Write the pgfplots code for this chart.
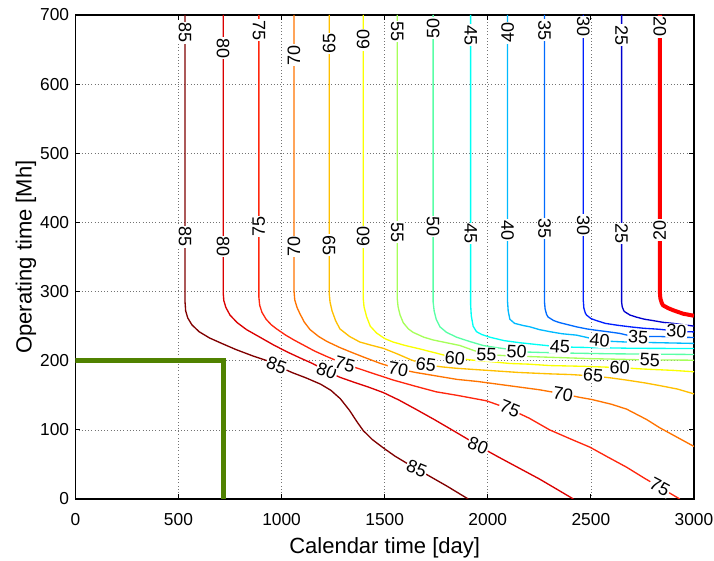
\documentclass[border=0pt]{standalone}
\usepackage{fontspec}
\setmainfont{Liberation Sans}
\usepackage{pgfplots}
\pgfplotsset{compat=1.18}

% jet colours of the contour levels
\definecolor{c85}{rgb}{0.50,0,0}
\definecolor{c80}{rgb}{0.86,0,0}
\definecolor{c75}{rgb}{1,0.15,0.05}
\definecolor{c70}{rgb}{1,0.45,0}
\definecolor{c65}{rgb}{1,0.75,0}
\definecolor{c60}{rgb}{0.98,1,0}
\definecolor{c55}{rgb}{0.65,1,0.35}
\definecolor{c50}{rgb}{0.35,1,0.65}
\definecolor{c45}{rgb}{0,1,0.96}
\definecolor{c40}{rgb}{0,0.73,1}
\definecolor{c35}{rgb}{0,0.42,1}
\definecolor{c30}{rgb}{0,0.12,1}
\definecolor{c25}{rgb}{0,0,0.81}
\definecolor{c20}{rgb}{1,0,0}
\definecolor{limitgreen}{RGB}{80,130,0}

\tikzset{clab/.style={font=\fontsize{13.5}{16}\selectfont, fill=white, inner sep=0.6pt}}

\begin{document}
\begin{tikzpicture}
\begin{axis}[
  at={(0,0)}, anchor=south west,
  scale only axis, width=464pt, height=363pt,
  xmin=0, xmax=3000, ymin=0, ymax=700,
  xtick={0,500,...,3000}, ytick={0,100,...,700},
  tick align=inside, tick pos=both, major tick length=3.8pt,
  grid=major, grid style={black!55, dotted, line width=0.5pt},
  axis line style={line width=0.8pt},
  tick style={line width=0.6pt, black},
  /pgf/number format/assume math mode=true,
  /pgf/number format/set thousands separator={},
  scaled ticks=false,
  ticklabel style={font=\fontsize{13}{16}\selectfont},
  xticklabel style={anchor=base, yshift=-19.7pt},
  yticklabel style={anchor=east, inner sep=0pt, xshift=-4.5pt},
  label style={font=\fontsize{16.5}{19}\selectfont},
  xlabel={Calendar time [day]},
  ylabel={Operating time [Mh]},
  xlabel style={at={(axis description cs:0.5,-0.113)}, anchor=base},
  ylabel style={at={(axis description cs:-0.0705,0.5)}, anchor=base},
  every axis plot/.append style={line width=1pt, line join=round},
]

% contour 85
\addplot[c85] coordinates {(532,700)(532,285)(535,272)(545,262)(565,252)(600,242)(650,233)(710,225)(780,216)(860,207)(930,200)(976,193)(1050,183)(1120,175)(1190,166)(1240,157)(1285,145)(1330,128)(1365,112)(1396,99)(1440,86)(1493,74)(1550,62)(1606,52)(1655,44)(1700,36)(1800,19)(1905,0)};
% contour 80
\addplot[c80] coordinates {(717,700)(717,298)(720,287)(730,277)(750,266)(785,255)(830,245)(895,234)(960,223)(1025,213)(1090,204)(1150,196)(1219,185)(1283,176)(1350,169)(1420,162)(1493,154)(1570,143)(1650,130)(1740,115)(1832,99)(1900,87)(1953,77)(2050,61)(2150,45)(2250,29)(2330,15)(2415,0)};
% contour 75
\addplot[c75] coordinates {(890,700)(890,292)(894,280)(905,270)(925,260)(950,252)(976,246)(1020,237)(1060,230)(1110,222)(1160,214)(1220,206)(1307,195)(1380,188)(1450,181)(1542,172)(1650,163)(1750,155)(1850,150)(1994,142)(2107,130)(2200,117)(2300,100)(2400,87)(2495,75)(2580,61)(2673,46)(2760,30)(2834,17)(2931,0)};
% contour 70
\addplot[c70] coordinates {(1060,700)(1060,302)(1064,288)(1075,277)(1089,268)(1110,256)(1138,245)(1180,235)(1219,228)(1283,219)(1332,213)(1400,205)(1480,196)(1566,188)(1650,183)(1750,178)(1850,173)(1950,170)(2050,166)(2150,162)(2250,158)(2365,152)(2446,147)(2503,144)(2600,137)(2673,130)(2770,115)(2834,103)(2920,89)(3000,76)};
% contour 65
\addplot[c65] coordinates {(1231,700)(1231,298)(1235,285)(1245,272)(1262,258)(1283,246)(1330,235)(1380,227)(1440,222)(1493,218)(1560,210)(1630,201)(1700,194)(1780,191)(1850,189)(2000,186)(2150,183)(2300,181)(2400,180)(2511,178)(2600,175)(2673,172)(2760,168)(2834,164)(2920,159)(3000,152)};
% contour 60
\addplot[c60] coordinates {(1396,700)(1396,290)(1400,278)(1412,264)(1430,250)(1461,240)(1500,232)(1541,227)(1600,222)(1671,217)(1750,211)(1841,204)(1920,201)(2000,199)(2107,196)(2200,195)(2300,193)(2450,192)(2550,191)(2640,190)(2753,188)(2900,186)(3000,184)};
% contour 55
\addplot[c55] coordinates {(1561,700)(1561,290)(1565,278)(1575,266)(1590,255)(1615,246)(1638,241)(1690,234)(1735,230)(1800,226)(1865,222)(1930,215)(1994,209)(2100,207)(2200,206)(2300,205)(2500,203)(2650,202)(2786,201)(2900,201)(3000,200.7)};
% contour 50
\addplot[c50] coordinates {(1735,700)(1735,285)(1740,272)(1750,260)(1768,249)(1800,241)(1849,234)(1910,228)(1978,222)(2040,219)(2091,217)(2140,213)(2250,212)(2400,211)(2600,210)(2800,209.5)(3000,209)};
% contour 45
\addplot[c45] coordinates {(1917,700)(1917,280)(1920,265)(1929,250)(1945,242)(1970,238)(2010,234)(2080,229)(2156,226)(2250,223)(2350,220)(2500,219)(2700,218)(3000,217.6)};
% contour 40
\addplot[c40] coordinates {(2096,700)(2096,285)(2099,272)(2107,260)(2130,254)(2170,251)(2204,249)(2250,245)(2301,242)(2360,239)(2430,237)(2490,233)(2543,229)(2600,228)(2673,227)(2834,226)(3000,225)};
% contour 35
\addplot[c35] coordinates {(2275,700)(2275,285)(2278,275)(2285,267)(2293,263)(2320,258)(2349,255)(2390,252)(2430,249)(2480,246)(2527,244)(2580,242)(2640,239.5)(2690,236)(2729,234)(2790,235)(2834,235)(2920,234)(3000,233.6)};
% contour 30
\addplot[c30] coordinates {(2463,700)(2463,288)(2466,276)(2473,269)(2479,266)(2500,261)(2527,258)(2570,254)(2624,251.5)(2690,249)(2753,247)(2830,245.5)(2915,243)(2960,242)(3000,241.7)};
% contour 25
\addplot[c25] coordinates {(2649,700)(2649,285)(2652,278)(2660,272)(2665,270.6)(2690,266)(2721,263)(2760,260)(2802,258)(2850,255.5)(2899,254)(2950,252)(3000,250)};
% contour 20, highlighted
\addplot[c20, line width=3pt] coordinates {(2834,700)(2834,300)(2837,290)(2843,284)(2850,280)(2875,276)(2899,273)(2947,268)(3000,265)};

% limit of calendar and operating time
\addplot[limitgreen, line width=3.8pt, line join=miter] coordinates {(0,200)(717,200)(717,0)};

% labels on the upper vertical branches
\node[clab, rotate=-90] at (axis cs:532,674) {85};
\node[clab, rotate=-90] at (axis cs:717,652) {80};
\node[clab, rotate=-90] at (axis cs:890,678) {75};
\node[clab, rotate=90]  at (axis cs:1060,642) {70};
\node[clab, rotate=90]  at (axis cs:1231,659) {65};
\node[clab, rotate=90]  at (axis cs:1396,664) {60};
\node[clab, rotate=-90] at (axis cs:1561,676) {55};
\node[clab, rotate=90]  at (axis cs:1735,681) {50};
\node[clab, rotate=-90] at (axis cs:1917,671) {45};
\node[clab, rotate=90]  at (axis cs:2096,674) {40};
\node[clab, rotate=-90] at (axis cs:2275,678) {35};
\node[clab, rotate=-90] at (axis cs:2463,683) {30};
\node[clab, rotate=-90] at (axis cs:2649,671) {25};
\node[clab, rotate=-90] at (axis cs:2834,683) {20};
% labels on the lower vertical branches
\node[clab, rotate=-90] at (axis cs:532,379) {85};
\node[clab, rotate=-90] at (axis cs:717,365) {80};
\node[clab, rotate=90]  at (axis cs:890,394) {75};
\node[clab, rotate=90]  at (axis cs:1060,365) {70};
\node[clab, rotate=-90] at (axis cs:1231,367) {65};
\node[clab, rotate=90]  at (axis cs:1396,379) {60};
\node[clab, rotate=-90] at (axis cs:1561,386) {55};
\node[clab, rotate=-90] at (axis cs:1735,394) {50};
\node[clab, rotate=-90] at (axis cs:1917,384) {45};
\node[clab, rotate=-90] at (axis cs:2096,389) {40};
\node[clab, rotate=-90] at (axis cs:2275,391) {35};
\node[clab, rotate=-90] at (axis cs:2463,396) {30};
\node[clab, rotate=-90] at (axis cs:2649,384) {25};
\node[clab, rotate=90]  at (axis cs:2834,389) {20};
% labels on the bent branches
\node[clab, rotate=-20] at (axis cs:976,193) {85};
\node[clab, rotate=-20] at (axis cs:1219,185) {80};
\node[clab, rotate=-15] at (axis cs:1307,195) {75};
\node[clab, rotate=-10] at (axis cs:1566,188) {70};
\node[clab, rotate=-8]  at (axis cs:1700,194) {65};
\node[clab, rotate=-5]  at (axis cs:1841,204) {60};
\node[clab, rotate=-3]  at (axis cs:1994,209) {55};
\node[clab, rotate=-3]  at (axis cs:2140,213) {50};
\node[clab, rotate=-3]  at (axis cs:2350,220) {45};
\node[clab, rotate=-5]  at (axis cs:2543,229) {40};
\node[clab, rotate=-3]  at (axis cs:2729,234) {35};
\node[clab, rotate=-3]  at (axis cs:2915,243) {30};
\node[clab, rotate=-2]  at (axis cs:2786,201) {55};
\node[clab, rotate=-3]  at (axis cs:2640,190) {60};
\node[clab, rotate=-5]  at (axis cs:2511,179) {65};
\node[clab, rotate=-10] at (axis cs:2365,152) {70};
\node[clab, rotate=-22] at (axis cs:2107,131) {75};
\node[clab, rotate=-22] at (axis cs:1953,77) {80};
\node[clab, rotate=-22] at (axis cs:1655,44) {85};
\node[clab, rotate=-28] at (axis cs:2834,17) {75};
\end{axis}
\pgfresetboundingbox
\path[use as bounding box] (-56.5pt,-46pt) rectangle (479pt,374.25pt);
\end{tikzpicture}
\end{document}
